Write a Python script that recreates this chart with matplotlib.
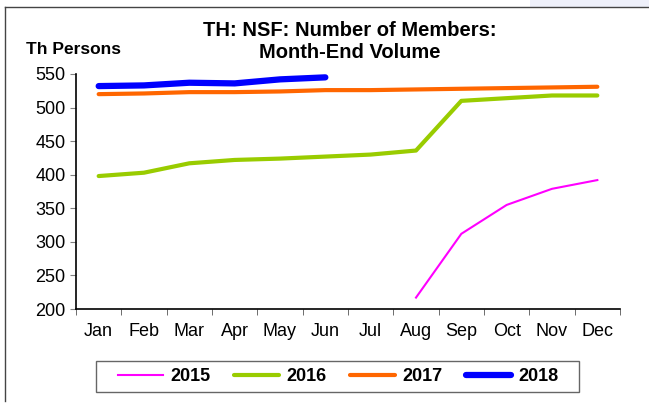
import numpy as np
import matplotlib.pyplot as plt
from matplotlib.patches import Rectangle

months = ['Jan', 'Feb', 'Mar', 'Apr', 'May', 'Jun', 'Jul', 'Aug', 'Sep', 'Oct', 'Nov', 'Dec']
v2015 = [None, None, None, None, None, None, None, 217, 312, 355, 379, 392]
v2016 = [398, 403, 417, 422, 424, 427, 430, 436, 510, 514, 518, 518]
v2017 = [520, 521, 523, 523, 524, 526, 526, 527, 528, 529, 530, 531]
v2018 = [532, 533, 537, 536, 542, 545]

plt.rcParams['font.family'] = ['Liberation Sans', 'DejaVu Sans']

W, H = 649, 403
fig = plt.figure(figsize=(6.49, 4.03), dpi=100)
ax = fig.add_axes([76 / W, 1 - 309 / H, 544 / W, 235 / H])

x = np.arange(12)
y15 = np.array([np.nan if v is None else v for v in v2015], dtype=float)
ax.plot(x, y15, color='#ff00ff', lw=1.5, label='2015')
ax.plot(x, v2016, color='#99cc00', lw=3, label='2016', solid_capstyle='round')
ax.plot(x, v2017, color='#ff6600', lw=3, label='2017', solid_capstyle='round')
ax.plot(x[:len(v2018)], v2018, color='#0000ff', lw=4.5, label='2018', solid_capstyle='round')

ax.set_xlim(-0.5, 11.5)
ax.set_ylim(200, 550)
ax.set_yticks(np.arange(200, 551, 50))
ax.set_xticks(x)
ax.set_xticklabels(months)
ax.set_xticks(np.arange(-0.5, 12, 1), minor=True)
ax.tick_params(axis='x', which='major', length=0, pad=10, labelsize=13)
ax.tick_params(axis='x', which='minor', length=4, direction='out', color='#555555')
ax.tick_params(axis='y', length=4.5, color='gray', labelsize=13, pad=3)
for s in ['top', 'right']:
    ax.spines[s].set_visible(False)
ax.spines['left'].set_linewidth(1.2)
ax.spines['bottom'].set_linewidth(1.2)

fig.text(350 / W, 1 - 31 / H, 'TH: NSF: Number of Members:', ha='center', va='center',
         fontsize=14.5, fontweight='bold')
fig.text(350 / W, 1 - 53 / H, 'Month-End Volume', ha='center', va='center',
         fontsize=14.5, fontweight='bold')
fig.text(26 / W, 1 - 49 / H, 'Th Persons', ha='left', va='center', fontsize=12.5,
         fontweight='bold')

# legend box drawn separately, entries laid out without frame
fig.patches.append(Rectangle((96 / W, 1 - 392 / H), 483 / W, 31 / H,
                             transform=fig.transFigure, facecolor='white',
                             edgecolor='#666666', lw=1))
leg = fig.legend(loc='center', bbox_to_anchor=(338 / W, 1 - 376.5 / H), ncol=4,
                 frameon=False, prop={'weight': 'bold', 'size': 13},
                 handlelength=2.5, columnspacing=1.3, handletextpad=0.4)

# page frame bits
fig.patches.append(Rectangle((530 / W, 1 - 7 / H), 119 / W, 7 / H,
                             transform=fig.transFigure, facecolor='#eef0fa',
                             edgecolor='none'))
fig.add_artist(plt.Line2D([5 / W, 1.0], [1 - 7 / H, 1 - 7 / H], transform=fig.transFigure,
                          color='#444444', lw=1))
fig.add_artist(plt.Line2D([5 / W, 5 / W], [1 - 7 / H, 1 - 401 / H], transform=fig.transFigure,
                          color='#444444', lw=1))

fig.savefig('out.png', dpi=100)
